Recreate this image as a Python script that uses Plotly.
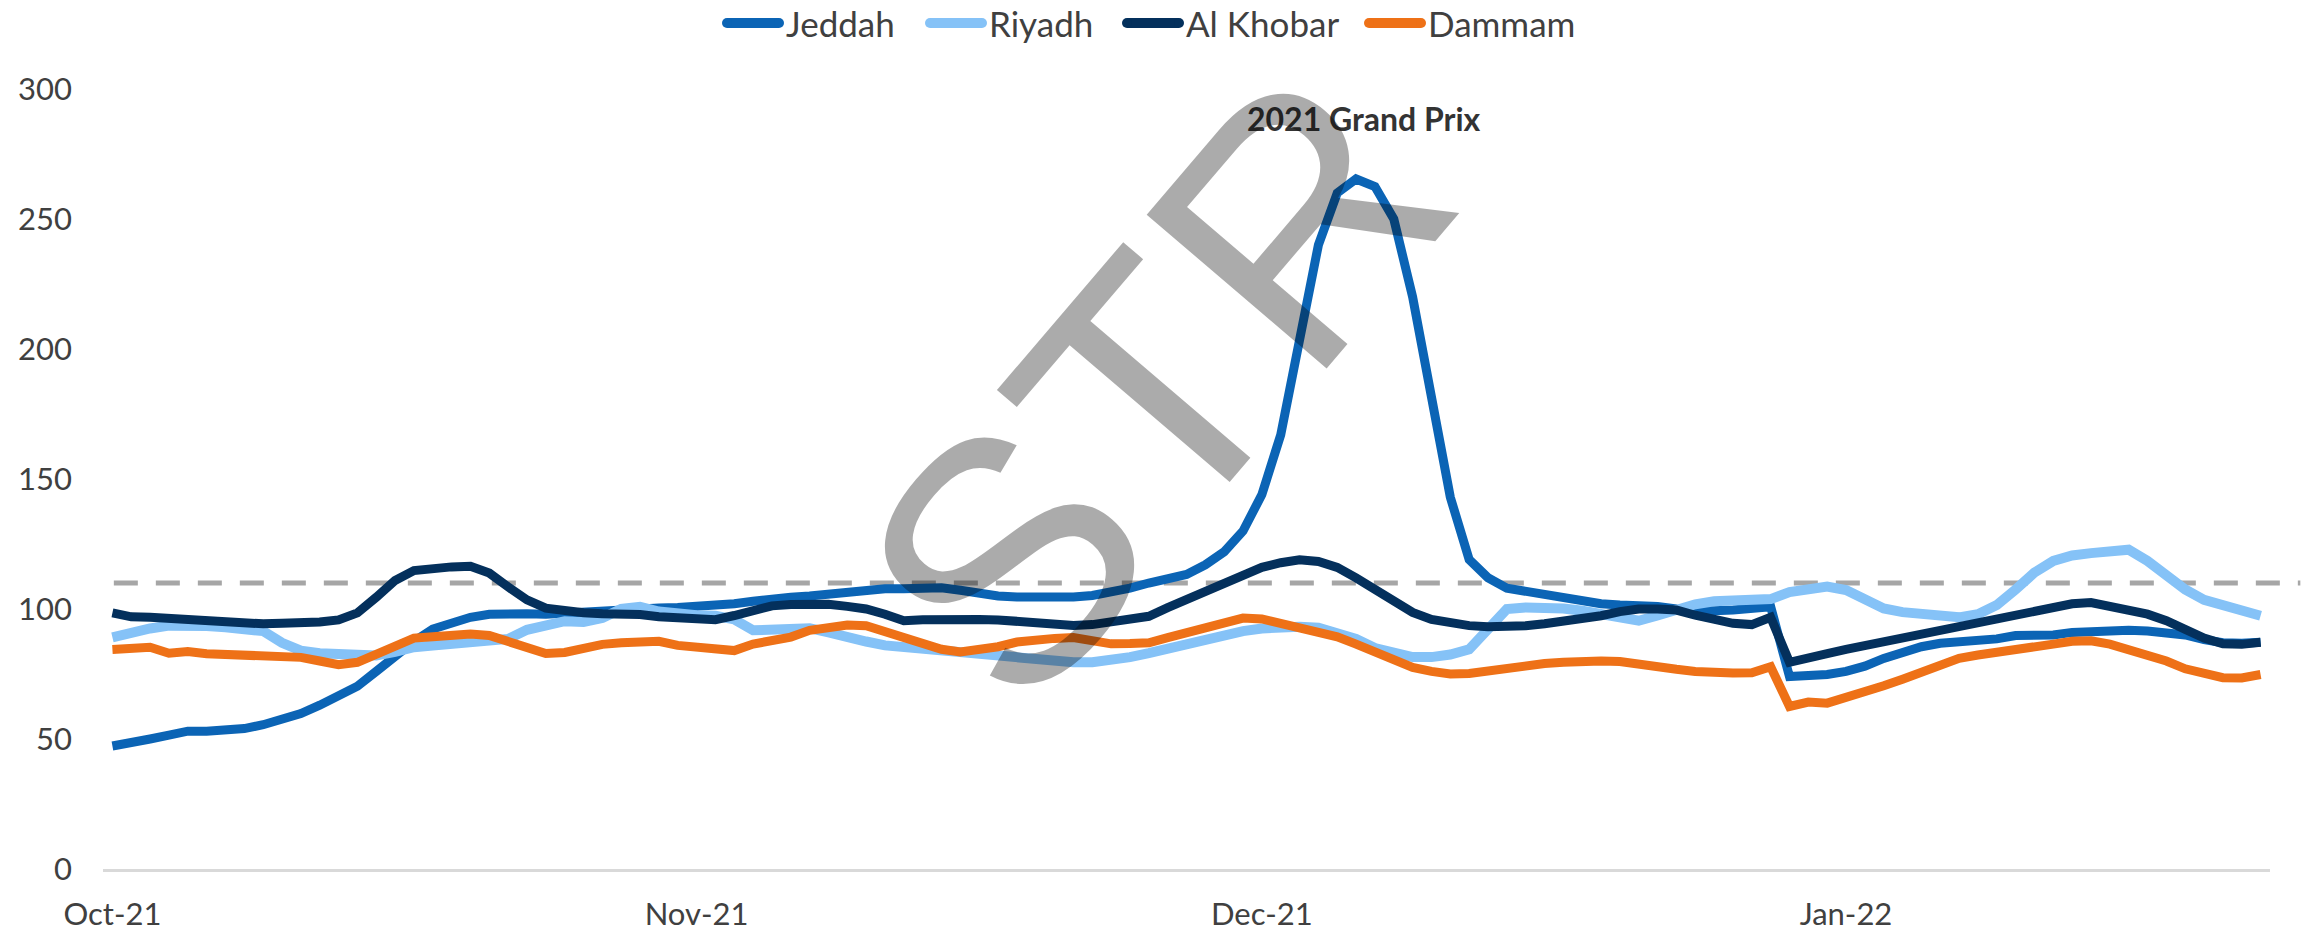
import pandas as pd
import plotly.graph_objects as go

# ---------------- data ----------------
dates = pd.date_range("2021-10-01", periods=115, freq="D")

jeddah = [
    47.3, 48.3, 50.0, 51.5, 53.0, 53.0, 53.5, 54.0, 55.5, 57.5,
    59.8, 63.0, 66.7, 70.3, 76.0, 82.0, 87.5, 92.3, 95.0, 96.8,
    98.0, 98.5, 98.2, 98.0, 98.5, 99.2, 99.5, 100.0, 100.2, 100.4,
    100.6, 100.8, 101.2, 102.0, 103.0, 104.0, 104.5, 105.0, 105.8, 107.0,
    107.6, 107.8, 107.8, 108.0, 108.2, 107.2, 106.0, 105.0, 104.6, 104.5,
    104.5, 104.6, 105.2, 106.5, 108.0, 110.0, 111.5, 113.3, 117.0, 122.0,
    130.0, 144.0, 167.0, 203.0, 240.0, 260.0, 265.4, 262.5, 250.0, 220.0,
    183.0, 143.0, 119.0, 112.0, 108.0, 106.8, 105.8, 104.5, 103.0, 102.0,
    101.5, 101.3, 101.0, 100.0, 99.4, 99.3, 99.6, 100.2, 100.9, 74.0,
    74.3, 74.8, 76.0, 78.0, 81.0, 83.5, 85.5, 86.8, 87.3, 87.8,
    88.5, 89.8, 89.5, 90.0, 91.0, 91.5, 91.7, 91.8, 91.5, 91.0,
    90.0, 88.2, 87.0, 86.8, 87.2,
]

riyadh = [
    89.1, 91.0, 92.5, 93.6, 93.8, 93.5, 93.0, 92.5, 91.5, 87.0,
    84.0, 83.0, 82.8, 82.5, 82.1, 83.5, 85.3, 86.0, 86.6, 87.0,
    87.2, 88.5, 92.0, 94.0, 95.3, 95.0, 96.5, 100.0, 100.8, 99.0,
    98.0, 97.6, 97.4, 96.0, 91.8, 92.0, 92.3, 92.6, 91.0, 89.0,
    87.5, 86.0, 85.3, 84.8, 84.3, 84.0, 83.3, 82.5, 81.5, 80.5,
    79.8, 79.5, 79.5, 80.3, 81.5, 83.0, 84.6, 86.3, 88.3, 90.3,
    91.5, 92.5, 93.0, 93.2, 92.8, 91.0, 88.5, 85.0, 83.0, 81.5,
    81.5, 82.5, 84.5, 92.0, 100.0, 100.6, 100.5, 100.2, 99.3, 98.2,
    96.8, 95.5, 97.5, 100.0, 101.8, 103.0, 103.2, 103.3, 103.8, 106.5,
    107.5, 108.6, 107.3, 103.5, 100.2, 98.8, 98.0, 97.2, 96.8, 98.0,
    101.5, 107.5, 114.0, 118.5, 120.6, 121.5, 122.5, 122.8, 118.5, 113.0,
    107.5, 103.5, 101.5, 99.5, 97.4,
]

al_khobar = [
    98.5, 97.0, 96.8, 96.4, 95.8, 95.2, 94.6, 94.2, 94.3, 94.5,
    94.6, 95.0, 95.8, 98.5, 104.5, 111.0, 114.8, 115.9, 116.2, 116.4,
    113.8, 108.5, 103.5, 100.3, 99.2, 98.6, 98.2, 98.1, 97.9, 97.0,
    96.5, 96.0, 95.9, 97.5, 99.8, 101.2, 101.7, 101.8, 101.8, 101.0,
    100.0, 98.0, 95.5, 95.9, 96.1, 96.1, 96.0, 95.8, 95.2, 94.6,
    94.0, 93.7, 94.0, 94.8, 95.8, 97.2, 100.5, 103.5, 107.0, 110.0,
    113.0, 116.0, 117.8, 118.9, 118.3, 116.0, 112.0, 107.5, 102.5, 98.7,
    96.0, 94.5, 93.6, 93.2, 93.0, 93.6, 94.3, 95.2, 96.2, 97.4,
    99.0, 100.0, 100.0, 99.6, 97.6, 95.8, 94.5, 94.0, 96.8, 79.5,
    81.5, 82.8, 84.5, 86.0, 87.5, 89.0, 90.5, 92.0, 93.3, 94.5,
    96.0, 97.5, 99.0, 100.8, 102.0, 102.5, 101.2, 100.0, 98.0, 95.5,
    92.0, 88.8, 86.6, 86.4, 87.2,
]

dammam = [
    84.4, 84.5, 85.3, 83.0, 83.6, 82.8, 82.6, 82.5, 81.5, 81.3,
    81.4, 80.0, 78.6, 79.5, 82.5, 86.0, 88.8, 89.3, 89.6, 90.4,
    89.8, 87.5, 84.8, 82.9, 83.3, 85.0, 86.4, 87.0, 87.4, 87.6,
    86.0, 85.5, 84.6, 84.0, 86.5, 88.0, 89.2, 91.8, 93.0, 93.8,
    93.6, 91.5, 89.0, 87.0, 84.5, 83.5, 84.1, 85.5, 87.3, 88.3,
    88.7, 89.0, 88.0, 86.6, 86.7, 87.0, 89.0, 91.0, 92.5, 94.5,
    96.5, 96.2, 94.5, 92.5, 91.0, 89.3, 86.5, 83.5, 80.2, 77.5,
    76.0, 75.0, 75.2, 76.2, 77.4, 78.4, 79.0, 79.5, 80.0, 80.0,
    79.8, 78.6, 77.5, 76.8, 76.0, 75.4, 75.4, 75.5, 77.8, 62.5,
    64.2, 63.8, 65.8, 68.5, 70.5, 73.0, 75.5, 78.5, 81.0, 82.3,
    83.2, 84.0, 85.0, 86.5, 87.6, 87.8, 86.5, 84.5, 82.1, 80.0,
    77.0, 75.2, 73.6, 73.5, 74.8,
]

series_names = ["Jeddah", "Riyadh", "Al Khobar", "Dammam"]
series_values = [jeddah, riyadh, al_khobar, dammam]
series_colors = ["#0B64B5", "#85C2F7", "#04305C", "#EE7117"]
series_widths = [9, 10, 9, 9]

reference_level = 110
tick_dates = ["2021-10-01", "2021-11-01", "2021-12-01", "2022-01-01"]
tick_labels = ["Oct-21", "Nov-21", "Dec-21", "Jan-22"]
y_ticks = [0, 50, 100, 150, 200, 250, 300]

event_label = "2021 Grand Prix"
event_date = "2021-12-06 10:00"
event_y = 288.5
watermark = "STR"

FONT = "Lato"
TEXT = "#404040"

# ---------------- layout geometry (pixels) ----------------
W, H = 2305, 934
ML, MR, MT, MB = 103, 35, 89, 65
PW, PH = W - ML - MR, H - MT - MB
legend_swatch_px = [723, 926, 1123, 1365]   # left edge of each legend swatch
legend_swatch_len = 60
legend_y_px = 23


def px_to_paper_x(px):
    return (px - ML) / PW


def px_to_paper_y(py):
    return (H - MB - py) / PH


# ---------------- figure ----------------
fig = go.Figure()
for name, vals, col, w in zip(series_names, series_values, series_colors, series_widths):
    fig.add_trace(go.Scatter(
        x=dates, y=vals, name=name, mode="lines", showlegend=False,
        line=dict(color=col, width=w, shape="linear"),
    ))

# reference dashed line
fig.add_shape(type="line", xref="paper", yref="y",
              x0=0.005, x1=1.014, y0=reference_level, y1=reference_level,
              line=dict(color="#A6A6A6", width=5, dash="24px,18px"), layer="below")

# legend (drawn manually so swatch length and spacing follow the original)
ly = px_to_paper_y(legend_y_px)
for name, col, sx in zip(series_names, series_colors, legend_swatch_px):
    fig.add_shape(type="line", xref="paper", yref="paper",
                  x0=px_to_paper_x(sx + 4), x1=px_to_paper_x(sx + legend_swatch_len - 4),
                  y0=ly, y1=ly, line=dict(color=col, width=10))
    fig.add_shape(type="circle", xref="paper", yref="paper",
                  x0=px_to_paper_x(sx - 1), x1=px_to_paper_x(sx + 9),
                  y0=px_to_paper_y(legend_y_px + 5), y1=px_to_paper_y(legend_y_px - 5),
                  fillcolor=col, line=dict(width=0))
    fig.add_shape(type="circle", xref="paper", yref="paper",
                  x0=px_to_paper_x(sx + legend_swatch_len - 9), x1=px_to_paper_x(sx + legend_swatch_len + 1),
                  y0=px_to_paper_y(legend_y_px + 5), y1=px_to_paper_y(legend_y_px - 5),
                  fillcolor=col, line=dict(width=0))
    fig.add_annotation(x=px_to_paper_x(sx + legend_swatch_len + 1), y=ly, xref="paper", yref="paper",
                       text=name, showarrow=False, xanchor="left", yanchor="middle",
                       font=dict(family=FONT, size=35, color=TEXT))

fig.add_annotation(x=event_date, y=event_y, xref="x", yref="y", text="<b>" + event_label + "</b>",
                   showarrow=False, font=dict(family=FONT, size=32, color="#333333"))

fig.add_annotation(x=0.486, y=0.62, xref="paper", yref="paper", text=watermark,
                   showarrow=False, textangle=-49.5,
                   font=dict(family="Liberation Sans", size=344, color="rgba(0,0,0,0.33)"))

x_start = dates[0] - pd.Timedelta(hours=12)
x_end = dates[-1] + pd.Timedelta(hours=12)

fig.update_layout(
    width=W, height=H,
    margin=dict(l=ML, r=MR, t=MT, b=MB, autoexpand=False),
    paper_bgcolor="white", plot_bgcolor="white",
    font=dict(family=FONT, size=31, color=TEXT),
    showlegend=False,
    xaxis=dict(type="date", range=[x_start, x_end], tickvals=tick_dates, ticktext=tick_labels,
               showgrid=False, zeroline=False, showline=True, linecolor="#D9D9D9", linewidth=3,
               ticks="", ticklabelstandoff=16, automargin=False,
               tickfont=dict(family=FONT, size=31, color=TEXT)),
    yaxis=dict(range=[0, 300], tickvals=y_ticks, showgrid=False, zeroline=False, showline=False,
               ticks="", ticklabelstandoff=30, automargin=False,
               tickfont=dict(family=FONT, size=31, color=TEXT)),
)

fig.write_html("out.html", config={"displayModeBar": False},
               post_script="document.body.style.margin='0px';")
